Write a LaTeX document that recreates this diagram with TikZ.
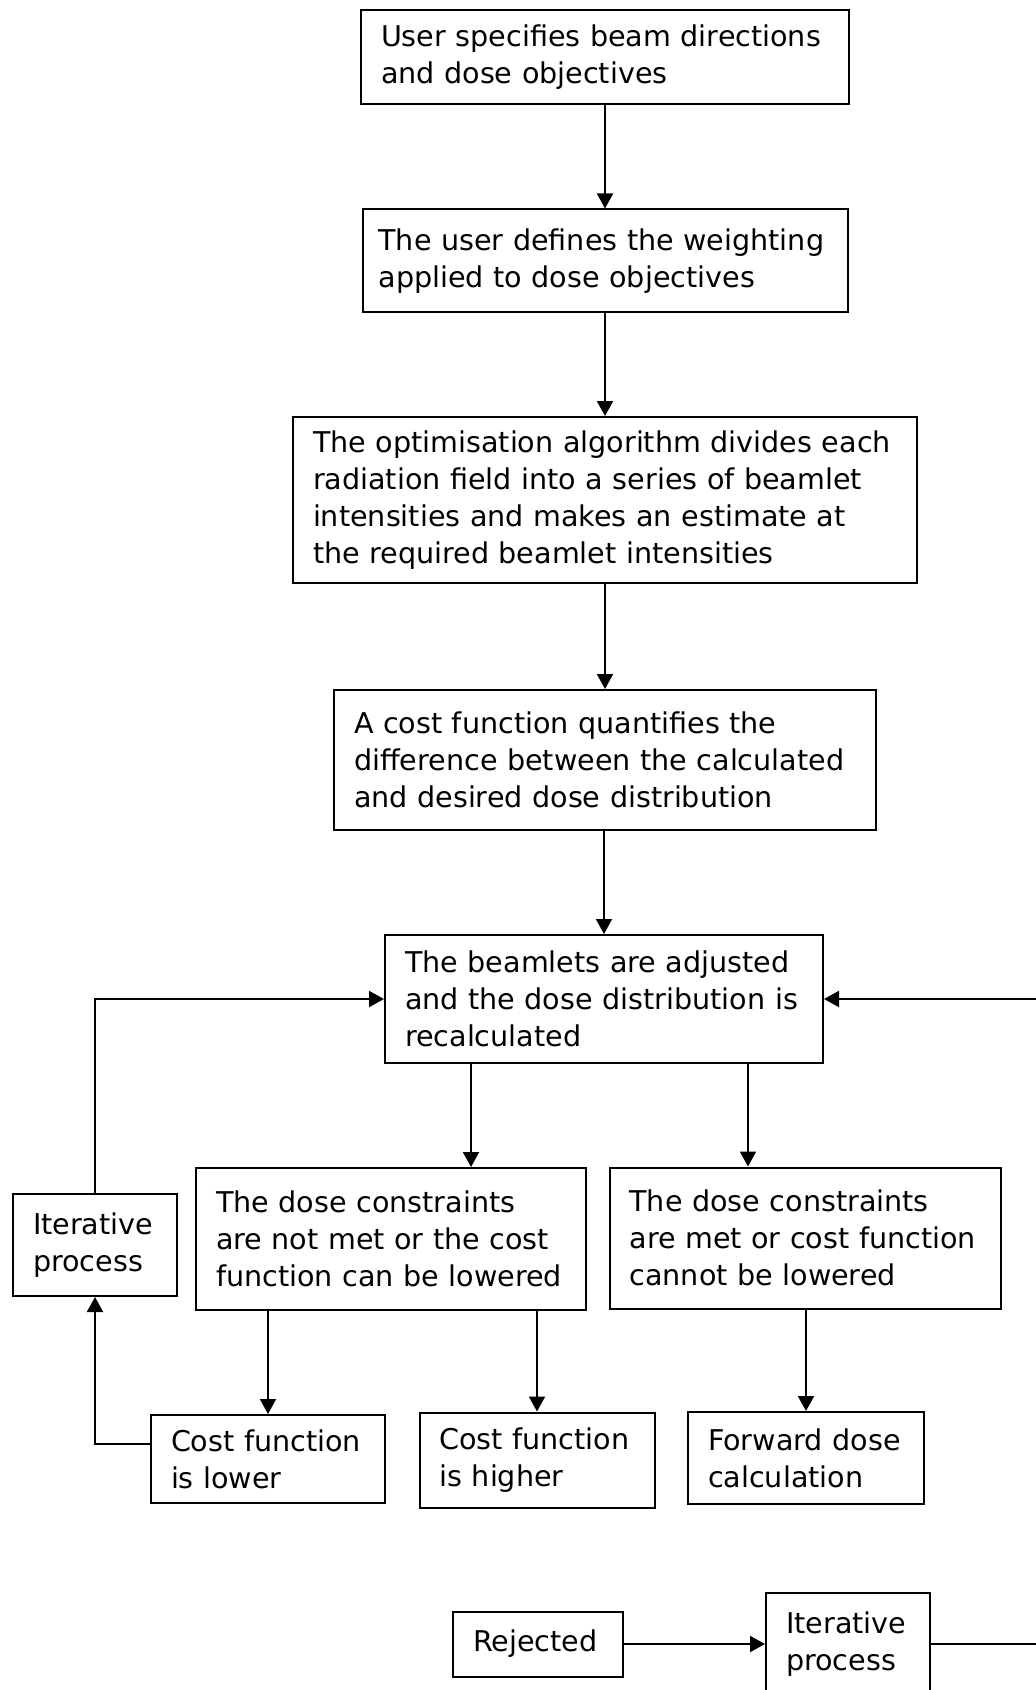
\documentclass[tikz,border=0pt]{standalone}
\usepackage{fontspec}
\setmainfont{DejaVu Sans}
\usepackage{tikz}
\usetikzlibrary{arrows.meta}

\begin{document}
\begin{tikzpicture}[x=0.5pt,y=-0.5pt,line width=1pt,
    ->,>={Triangle[length=7.5pt,width=8pt]},
    block/.style={draw, ->=none, rectangle, align=left, inner xsep=10pt,
      font=\fontsize{14.3pt}{18.5pt}\selectfont}]
  \useasboundingbox (0,0) rectangle (1036,1690);

  % main column
  \node[block, text width=224pt, minimum height=47pt]   (spec)   at (605,57)   {User specifies beam directions\\and dose objectives};
  \node[block, text width=226.5pt, inner xsep=8pt, minimum height=51.5pt] (weight) at (605,261) {The user defines the weighting\\applied to dose objectives};
  \node[block, text width=292pt, minimum height=83pt]   (optim)  at (605,500)  {The optimisation algorithm divides each\\radiation field into a series of beamlet\\intensities and makes an estimate at\\the required beamlet intensities};
  \node[block, text width=251pt, minimum height=70pt]   (cost)   at (605,760)  {A cost function quantifies the\\difference between the calculated\\and desired dose distribution};
  \node[block, text width=199pt, minimum height=64pt]   (adjust) at (604,999)  {The beamlets are adjusted\\and the dose distribution is\\recalculated};

  % branches
  \node[block, text width=62pt, minimum height=51pt]    (iterL)   at (95,1245)  {Iterative\\process};
  \node[block, text width=175pt, minimum height=71pt]   (notmet)  at (391,1239) {The dose constraints\\are not met or the cost\\function can be lowered};
  \node[block, text width=175.5pt, minimum height=70.5pt] (met)   at (805,1238) {The dose constraints\\are met or cost function\\cannot be lowered};
  \node[block, text width=97pt, minimum height=44pt]    (lower)   at (268,1459) {Cost function\\is lower};
  \node[block, text width=97.5pt, minimum height=47.5pt] (higher) at (537,1460) {Cost function\\is higher};
  \node[block, text width=98pt, minimum height=46pt]    (forward) at (806,1458) {Forward dose\\calculation};

  % bottom row
  \node[block, text width=65pt, minimum height=32.5pt]  (rejected) at (538,1644) {Rejected};
  \node[block, text width=62pt, minimum height=51pt]    (iterB)    at (848,1644) {Iterative\\process};

  \coordinate (splitL) at (471,0);
  \coordinate (splitR) at (748,0);
  \coordinate (rin)  at (1040,999);
  \coordinate (bout) at (1040,1644);

  \path[->]
        (spec)   edge (weight)
        (weight) edge (optim)
        (optim)  edge (cost)
        (cost.south -| adjust.north) edge (adjust.north)
        (adjust.south -| splitL) edge (notmet.north -| splitL)
        (adjust.south -| splitR) edge (met.north -| splitR)
        (notmet.south -| lower.north)  edge (lower.north)
        (notmet.south -| higher.north) edge (higher.north)
        (met.south -| forward.north)   edge (forward.north)
        (rejected) edge (iterB);

  \draw[->] (iterL.north) |- (adjust.west);
  \draw[->] (rin) -- (adjust.east);
  \draw[->] ([yshift=7.5pt]lower.west) -| (iterL.south);
  \draw[-] (iterB.east) -- (bout);
\end{tikzpicture}
\end{document}
